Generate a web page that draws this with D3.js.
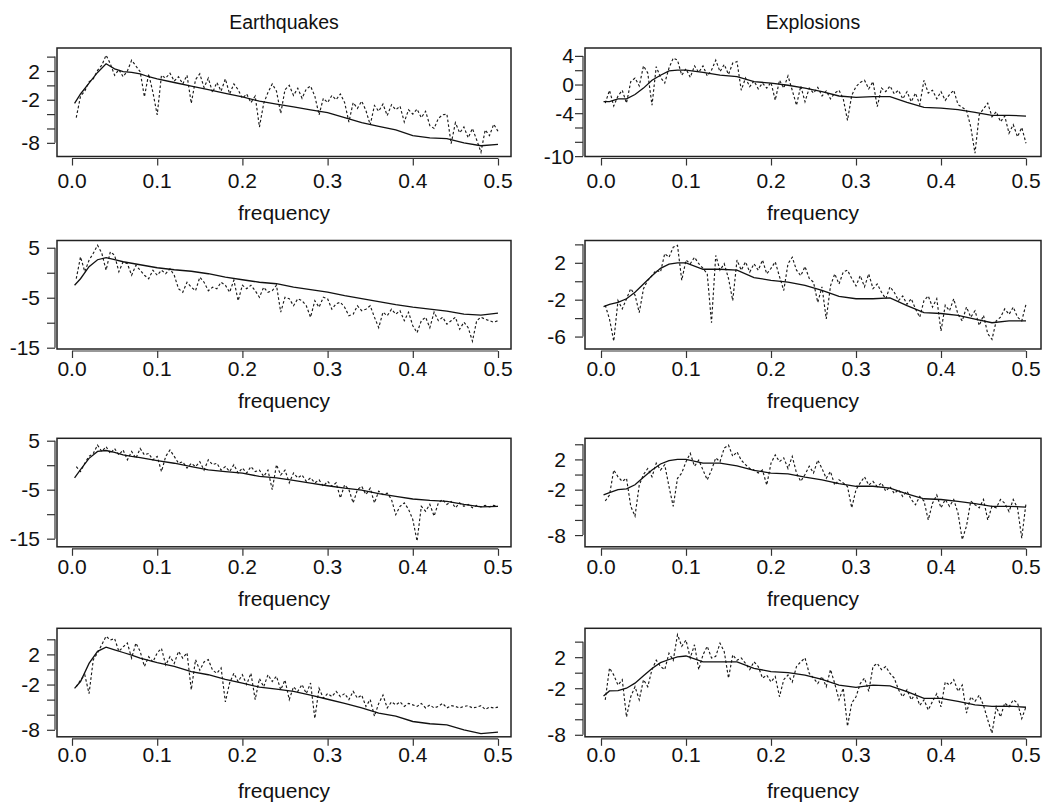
<!DOCTYPE html>
<html><head><meta charset="utf-8">
<script src="https://cdn.jsdelivr.net/npm/d3@7"></script>
<style>body{margin:0;background:#fff} text{font-family:"Liberation Sans",Arial,Helvetica,sans-serif;fill:#111}</style>
</head><body><svg id="c" width="1052" height="803"></svg>
<script>
// ---------------- data ----------------
const columnTitles = ["Earthquakes", "Explosions"];
const xTicks = [0, 0.1, 0.2, 0.3, 0.4, 0.5];
const xTickLabels = ["0.0", "0.1", "0.2", "0.3", "0.4", "0.5"];
const xLabel = "frequency";

// Fourier frequency grid of the raw (noisy) spectra
const rawFreq = d3.range(1, 101).map(k => +(k * 0.005).toFixed(3));
// frequency grid of the smoothed spectra
const smoothFreq = [0.003, 0.01, 0.02, 0.03, 0.04, 0.05, 0.06, 0.07, 0.08, 0.09, 0.10,
  0.12, 0.14, 0.16, 0.18, 0.20, 0.22, 0.24, 0.26, 0.28, 0.30, 0.32, 0.34, 0.36, 0.38,
  0.40, 0.42, 0.44, 0.46, 0.48, 0.50];

// Earthquakes
const eq1Raw = [-4.5,-1.5,-0.8,0.5,0.9,2.1,2.8,4.2,3.0,1.4,2.2,1.2,2.0,3.5,2.7,1.9,-1.6,1.6,-1.0,-4.1,
  1.4,1.0,1.7,0.6,1.2,0.2,1.4,-2.5,0.8,1.6,-0.3,1.0,-1.0,0.4,-0.8,0.9,-1.2,0.2,-0.6,-1.8,
  -1.2,-2.4,-1.5,-5.8,-2.5,-1.0,0.2,-0.8,-3.9,-0.6,0.0,-1.4,-0.4,-1.8,-0.5,-0.1,-1.5,-4.1,-1.8,-2.4,
  -1.4,-2.0,-1.2,-2.4,-5.1,-2.4,-3.2,-2.2,-3.5,-5.5,-2.8,-3.6,-2.6,-4.2,-2.7,-3.4,-2.9,-5.1,-3.4,-4.0,
  -3.3,-4.5,-3.6,-5.6,-6.0,-4.6,-4.1,-4.0,-8.1,-5.2,-6.6,-5.8,-7.3,-6.0,-7.6,-9.3,-6.2,-7.0,-5.4,-6.4];
const eq1Smooth = [-2.5,-1.2,0.3,1.8,3.0,2.3,1.9,1.8,1.6,1.2,0.9,0.4,-0.1,-0.6,-1.1,-1.6,-2.2,-2.6,-3.0,-3.4,
  -3.8,-4.5,-5.2,-5.7,-6.2,-7.0,-7.3,-7.4,-8.0,-8.4,-8.2];

const eq2Raw = [-1.2,3.2,0.2,2.5,3.9,5.5,3.9,0.5,4.2,3.5,0.2,2.2,1.8,-0.5,1.5,0.5,-0.5,-1.2,0.5,-0.5,
  0.5,-0.2,0.8,-0.5,-3.2,-3.9,-1.9,-2.9,-3.6,-0.9,-1.9,-3.6,-2.9,-3.2,-1.9,-2.5,-3.9,-1.5,-5.6,-2.5,
  -3.2,-2.5,-3.6,-4.9,-2.9,-3.9,-3.6,-2.5,-7.9,-4.9,-5.2,-6.6,-5.2,-5.6,-6.6,-8.9,-5.6,-6.9,-4.9,-5.2,
  -7.3,-6.2,-5.9,-6.9,-8.6,-8.3,-6.6,-7.6,-7.3,-6.6,-8.9,-11.0,-7.9,-8.6,-7.3,-8.3,-7.6,-9.6,-7.9,-10.6,
  -12.0,-9.6,-8.9,-11.0,-7.9,-9.6,-8.9,-10.3,-9.6,-8.9,-11.3,-9.9,-11.0,-13.7,-9.6,-8.9,-9.3,-9.6,-9.9,-9.6];
const eq2Smooth = [-2.5,-1.2,1.2,2.6,3.0,2.6,2.2,1.9,1.6,1.3,1.0,0.6,0.3,-0.2,-0.9,-1.4,-1.9,-2.2,-2.9,-3.4,
  -3.9,-4.6,-5.2,-5.8,-6.4,-6.9,-7.3,-7.7,-8.3,-8.5,-8.1];

const eq3Raw = [-0.3,-1.3,0.4,1.8,2.4,4.1,2.8,3.8,2.4,3.4,2.1,3.1,1.1,2.8,1.4,3.4,2.1,2.4,1.1,1.8,
  -1.3,1.8,3.1,1.8,0.4,0.7,-0.6,0.4,-0.3,0.7,-1.0,1.1,0.1,0.4,-1.0,-0.3,-1.3,0.1,-1.6,-0.6,
  -1.6,-0.3,-1.3,-1.0,-2.3,-1.0,-5.0,0.1,-2.0,-1.0,-3.6,-1.6,-2.6,-2.0,-3.3,-2.6,-3.6,-3.0,-4.3,-3.3,
  -4.3,-3.6,-6.7,-4.0,-5.0,-7.7,-5.0,-4.3,-6.0,-4.7,-7.7,-5.3,-6.0,-5.7,-7.0,-10.1,-8.4,-7.7,-9.0,-11.1,
  -15.5,-8.4,-9.4,-8.0,-10.4,-7.7,-7.0,-8.0,-7.4,-8.7,-7.7,-8.4,-8.0,-8.7,-8.2,-8.5,-8.2,-8.5,-8.2,-8.4];
const eq3Smooth = [-2.6,-0.9,1.4,2.8,3.0,2.6,2.1,1.8,1.55,1.25,0.95,0.4,-0.3,-0.95,-1.3,-1.6,-2.3,-2.6,-3.1,-3.65,
  -4.2,-4.7,-5.1,-5.8,-6.35,-6.9,-7.2,-7.4,-8.0,-8.5,-8.4];

const eq4Raw = [-2.3,-1.4,-0.7,-3.2,1.3,2.2,3.3,4.4,3.9,4.1,2.4,3.0,3.5,1.5,3.5,2.4,0.4,1.7,1.0,2.2,
  2.8,0.6,1.7,0.8,2.4,1.5,2.2,-2.7,1.3,-0.1,1.0,1.3,-0.1,-0.5,0.2,-4.3,-1.8,-0.5,-1.6,-0.7,
  -2.0,-0.5,-4.0,-1.2,-2.3,-0.7,-1.6,-0.9,-2.7,-1.4,-4.0,-2.3,-2.9,-2.0,-3.2,-1.8,-6.5,-2.5,-3.8,-3.2,
  -3.6,-2.9,-3.6,-3.2,-4.0,-2.9,-3.8,-3.4,-4.9,-4.0,-6.2,-4.5,-3.4,-5.1,-4.3,-4.7,-4.3,-4.9,-4.5,-4.7,
  -4.9,-4.5,-5.1,-4.7,-5.1,-4.9,-4.5,-5.1,-4.8,-4.9,-5.1,-4.9,-4.8,-5.1,-5.0,-4.8,-5.3,-5.0,-5.1,-5.0];
const eq4Smooth = [-2.5,-1.6,0.8,2.4,2.95,2.6,2.25,1.9,1.5,1.2,0.9,0.4,-0.3,-0.7,-1.3,-1.8,-2.35,-2.6,-2.9,-3.4,
  -3.95,-4.5,-5.1,-5.8,-6.2,-6.9,-7.2,-7.35,-8.0,-8.5,-8.3];

// Explosions
const ex1Raw = [-2.6,-0.8,-3.0,-1.6,-0.8,-2.6,0.4,0.9,-0.2,2.6,1.6,-2.9,2.5,1.0,0.2,2.3,3.7,3.4,1.3,2.2,
  1.0,2.6,1.7,2.6,1.2,2.0,3.4,1.8,2.8,1.4,3.0,3.2,-0.8,0.9,-0.3,0.5,-0.6,0.2,-0.5,0.3,
  -2.2,0.6,-0.5,1.2,-0.8,-2.9,-0.2,-2.4,-0.5,-1.2,-0.4,-1.6,-0.9,-2.0,-1.2,-0.8,-2.0,-5.0,-1.5,-0.3,
  0.3,0.6,-0.6,0.4,-3.1,-0.5,-1.0,-0.2,-1.3,-0.8,-2.0,-1.0,-2.4,-1.2,-2.8,0.6,-1.2,-0.8,-2.0,-1.0,
  -2.2,-1.4,-0.8,-2.8,-3.2,-3.6,-5.9,-9.6,-4.2,-3.4,-2.6,-4.5,-3.8,-5.2,-4.4,-6.8,-5.6,-7.3,-6.0,-8.2];
const ex1Smooth = [-2.4,-2.4,-2.0,-2.0,-1.4,-0.5,0.6,1.3,1.9,2.0,2.0,1.7,1.3,1.1,0.4,0.2,-0.1,-0.5,-1.0,-1.6,
  -1.8,-1.7,-1.7,-2.5,-3.2,-3.3,-3.5,-3.9,-4.3,-4.3,-4.4];

const ex2Raw = [-2.6,-4.1,-6.5,-2.1,-3.0,-1.9,-0.8,-1.5,-3.4,-0.8,0.1,0.6,1.2,1.0,3.0,2.6,3.7,3.9,0.1,2.3,
  1.9,2.6,1.9,1.4,0.8,-4.5,2.8,1.2,1.9,0.3,-2.1,2.3,1.2,2.1,1.0,1.9,1.2,2.3,0.8,1.4,
  2.1,0.5,-1.0,1.9,2.6,1.2,0.6,1.6,0.3,-0.1,-2.3,-0.6,-4.1,-0.5,0.8,-0.3,1.0,1.2,0.3,-0.5,
  0.6,-0.6,0.8,-0.8,-0.3,-1.2,-1.9,-0.6,-1.2,-2.1,-1.6,-2.5,-1.9,-3.0,-3.9,-2.1,-1.6,-2.8,-1.9,-5.4,
  -2.6,-3.2,-1.9,-3.6,-4.3,-2.8,-3.9,-3.2,-4.8,-3.7,-5.7,-6.3,-4.3,-3.9,-3.0,-3.6,-2.8,-3.9,-4.3,-2.5];
const ex2Smooth = [-2.75,-2.5,-2.3,-1.9,-1.2,-0.3,0.6,1.4,1.85,2.0,2.0,1.3,1.3,1.2,0.4,0.1,-0.1,-0.45,-1.0,-1.65,
  -1.9,-1.9,-1.8,-2.65,-3.4,-3.5,-3.7,-4.1,-4.5,-4.3,-4.3];

const ex3Raw = [-3.5,-2.7,0.6,-0.3,-0.9,-0.5,-4.2,-5.5,-1.4,0.0,0.8,-0.3,1.5,0.6,1.3,-1.6,-4.2,-0.5,0.2,1.7,
  2.8,1.1,1.9,0.6,-0.7,0.6,2.2,1.7,3.5,3.9,2.4,3.0,1.9,1.3,0.8,0.6,0.2,0.6,-1.4,1.5,
  2.6,1.7,2.2,0.8,2.4,0.2,-0.9,0.0,1.1,0.2,1.9,0.8,-0.5,0.4,-1.4,-0.7,-1.1,-1.6,-4.4,-2.0,
  -1.1,-0.3,-1.4,-0.9,-1.6,-1.1,-2.2,-1.6,-2.5,-2.0,-2.9,-2.2,-3.3,-4.0,-2.9,-3.5,-6.0,-3.8,-2.7,-4.4,
  -3.3,-4.2,-3.3,-5.1,-8.6,-6.8,-3.5,-4.0,-4.4,-3.3,-6.0,-4.2,-4.4,-3.3,-3.8,-4.9,-3.3,-4.4,-8.4,-3.8];
const ex3Smooth = [-2.7,-2.4,-2.0,-1.9,-1.35,-0.35,0.6,1.4,1.85,2.0,2.0,1.5,1.5,1.15,0.55,0.2,0.1,-0.35,-0.7,-1.2,
  -1.55,-1.55,-1.8,-2.55,-3.2,-3.3,-3.55,-3.85,-4.2,-4.2,-4.3];

const ex4Raw = [-3.5,0.6,-0.3,-1.6,-0.9,-5.7,-3.1,-1.8,-3.5,-0.9,-1.8,0.4,1.6,0.8,0.4,2.5,1.6,4.9,3.4,4.2,
  1.9,3.6,0.4,2.3,3.4,1.9,2.1,3.8,2.7,-0.7,2.3,1.6,1.9,1.2,0.4,1.4,0.8,-0.7,-0.3,-1.2,
  -0.5,-3.1,-0.9,-0.3,-1.2,0.8,1.4,1.9,-0.1,-0.7,-1.4,-0.5,-1.8,0.4,-1.4,-3.5,-2.0,-6.9,-3.9,-3.1,
  -1.4,-0.7,-2.4,0.8,1.2,0.4,0.8,-0.1,-0.7,-2.2,-3.1,-2.2,-3.5,-2.7,-4.2,-3.5,-4.8,-3.7,-2.7,-4.4,
  -1.2,-1.6,-0.9,-2.4,-1.6,-5.2,-3.1,-3.7,-2.9,-4.2,-6.1,-7.8,-4.4,-5.7,-3.9,-4.4,-3.5,-3.9,-5.9,-4.4];
const ex4Smooth = [-3.0,-2.35,-2.3,-2.0,-1.35,-0.4,0.55,1.3,1.7,2.05,2.15,1.4,1.4,1.4,0.55,0.15,0.0,-0.3,-0.85,-1.6,
  -1.9,-1.6,-1.7,-2.45,-3.3,-3.3,-3.7,-4.15,-4.35,-4.3,-4.45];

// axis ranges and ticks per panel (row-major: Eq1, Ex1, Eq2, Ex2, ...)
const yMin = [-9.9, -10.05, -15.26, -7.35, -16.66, -9.55, -8.93, -8.26];
const yMax = [5.2, 5.1, 6.45, 4.42, 5.49, 4.79, 5.46, 5.72];
const yTicks = [
  [4,2,0,-2,-4,-6,-8], [4,2,0,-2,-4,-6,-8,-10],
  [5,0,-5,-10,-15],    [4,2,0,-2,-4,-6],
  [5,0,-5,-10,-15],    [4,2,0,-2,-4,-6,-8],
  [4,2,0,-2,-4,-6,-8], [4,2,0,-2,-4,-6,-8]];
const yTickLabels = [
  [2,-2,-8], [4,0,-4,-10],
  [5,-5,-15], [2,-2,-6],
  [5,-5,-15], [2,-2,-8],
  [2,-2,-8], [2,-2,-8]];
const rawSeries = [eq1Raw, ex1Raw, eq2Raw, ex2Raw, eq3Raw, ex3Raw, eq4Raw, ex4Raw];
const smoothSeries = [eq1Smooth, ex1Smooth, eq2Smooth, ex2Smooth, eq3Smooth, ex3Smooth, eq4Smooth, ex4Smooth];

// ---------------- layout ----------------
const rowTop = [48, 240.5, 438.3, 628.3];
const boxH = 108.5;
const colLeft = [57, 585], colRight = [511, 1041];
const xPx0 = [72, 601], xPx1 = [498, 1026];
const labelRight = [[40, 574], [40, 566], [40, 566], [40, 566]];
const tickLabBase = [31, 27, 27.5, 25];
const xLabBase = [63, 59, 59, 61];
const FS = 21;

const svg = d3.select("#c");
svg.append("rect").attr("width", 1052).attr("height", 803).attr("fill", "#fff");

columnTitles.forEach((t, c) => {
  svg.append("text").attr("x", (colLeft[c] + colRight[c]) / 2).attr("y", 29)
    .attr("text-anchor", "middle").attr("font-size", 19.5).text(t);
});

for (let p = 0; p < 8; p++) {
  const r = Math.floor(p / 2), c = p % 2;
  const top = rowTop[r], bot = top + boxH, L = colLeft[c], R = colRight[c];
  const x = d3.scaleLinear().domain([0, 0.5]).range([xPx0[c], xPx1[c]]);
  const y = d3.scaleLinear().domain([yMin[p], yMax[p]]).range([bot, top]);
  const g = svg.append("g");

  g.append("clipPath").attr("id", "clip" + p).append("rect")
    .attr("x", L).attr("y", top).attr("width", R - L).attr("height", boxH);

  const line = d3.line().x(d => x(d[0])).y(d => y(d[1]));
  const plot = g.append("g").attr("clip-path", `url(#clip${p})`);
  plot.append("path").datum(rawFreq.map((f, i) => [f, rawSeries[p][i]]))
    .attr("d", line).attr("fill", "none").attr("stroke", "#1a1a1a")
    .attr("stroke-width", 1.15).attr("stroke-dasharray", "2.6,2.2");
  plot.append("path").datum(smoothFreq.map((f, i) => [f, smoothSeries[p][i]]))
    .attr("d", line).attr("fill", "none").attr("stroke", "#111").attr("stroke-width", 1.3);

  // box
  g.append("rect").attr("x", L).attr("y", top).attr("width", R - L).attr("height", boxH)
    .attr("fill", "none").attr("stroke", "#222").attr("stroke-width", 1.5);

  // x axis
  const xa = g.append("g").attr("transform", `translate(0,${bot + 2})`)
    .call(d3.axisBottom(x).tickValues(xTicks).tickSize(7).tickFormat(""));
  xa.selectAll("path,line").attr("stroke", "#333").attr("stroke-width", 1.2);
  xa.select(".domain").attr("d", `M${x(0)},0H${x(0.5)}`);
  xTicks.forEach((v, i) => {
    g.append("text").attr("x", x(v)).attr("y", bot + tickLabBase[r])
      .attr("text-anchor", "middle").attr("font-size", FS).text(xTickLabels[i]);
  });
  g.append("text").attr("x", (L + R) / 2).attr("y", bot + xLabBase[r])
    .attr("text-anchor", "middle").attr("font-size", FS).text(xLabel);

  // y axis
  const ya = g.append("g").attr("transform", `translate(${L - 2},0)`)
    .call(d3.axisLeft(y).tickValues(yTicks[p]).tickSize(8).tickFormat(""));
  ya.selectAll("path,line").attr("stroke", "#333").attr("stroke-width", 1.2);
  const tv = yTicks[p];
  ya.select(".domain").attr("d", `M0,${y(d3.max(tv))}V${y(d3.min(tv))}`);
  yTickLabels[p].forEach(v => {
    g.append("text").attr("x", labelRight[r][c]).attr("y", y(v)).attr("dy", "0.36em")
      .attr("text-anchor", "end").attr("font-size", FS).text(v);
  });
}
</script></body></html>
